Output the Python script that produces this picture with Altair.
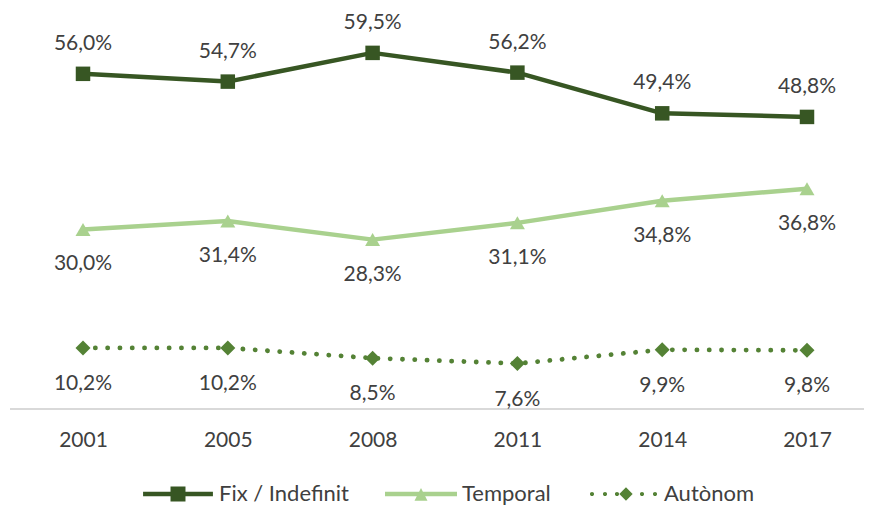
import altair as alt
import pandas as pd

years = ["2001", "2005", "2008", "2011", "2014", "2017"]
fix = [56.0, 54.7, 59.5, 56.2, 49.4, 48.8]
temporal = [30.0, 31.4, 28.3, 31.1, 34.8, 36.8]
autonom = [10.2, 10.2, 8.5, 7.6, 9.9, 9.8]
series_names = ["Fix / Indefinit", "Temporal", "Autònom"]
colors = ["#375623", "#A9D18E", "#548235"]

rows = []
for name, vals in zip(series_names, [fix, temporal, autonom]):
    for yr, v in zip(years, vals):
        rows.append({"year": yr, "value": v, "series": name,
                     "label": f"{v:.1f}".replace(".", ",") + "%"})
df = pd.DataFrame(rows)

FONT = "Lato"
TXT = "#404040"
W, H = 854, 397
YMAX = 66.33

x = alt.X("year:O", sort=years,
          scale=alt.Scale(type="point", range=[73, 797], padding=0),
          axis=alt.Axis(title=None, domain=False, ticks=False, tickSize=0,
                        labelFont=FONT, labelFontSize=21, labelColor=TXT,
                        labelAngle=0, labelPadding=31, labelBaseline="middle"))
y = alt.Y("value:Q", scale=alt.Scale(domain=[0, YMAX], nice=False, zero=True), axis=None)

base = alt.Chart(df)

def sel(name):
    return base.transform_filter(alt.datum.series == name)

axis_line = alt.Chart(pd.DataFrame({"value": [0]})).mark_rule(
    color="#d9d9d9", strokeWidth=2).encode(
    y=alt.Y("value:Q", scale=alt.Scale(domain=[0, YMAX], nice=False), axis=None),
    x=alt.value(0), x2=alt.value(W))

line_fix = sel(series_names[0]).mark_line(color=colors[0], strokeWidth=4.5, strokeJoin="round").encode(x=x, y=y)
line_tmp = sel(series_names[1]).mark_line(color=colors[1], strokeWidth=4.5, strokeJoin="round").encode(x=x, y=y)
line_aut = sel(series_names[2]).mark_line(color=colors[2], strokeWidth=4.8, strokeDash=[0.1, 12.2],
                                          strokeCap="round").encode(x=x, y=y)

pt_fix = sel(series_names[0]).mark_point(shape="square", size=210, filled=True, opacity=1,
                                         color=colors[0]).encode(x=x, y=y)
pt_tmp = sel(series_names[1]).mark_point(shape="triangle-up", size=225, filled=True, opacity=1,
                                         color=colors[1]).encode(x=x, y=y)
pt_aut = sel(series_names[2]).mark_point(shape="diamond", size=225, filled=True, opacity=1,
                                         color=colors[2]).encode(x=x, y=y)

def lbl(name, dy):
    return sel(name).mark_text(font=FONT, fontSize=21, color=TXT, dy=dy,
                               align="center", baseline="middle").encode(x=x, y=y, text="label:N")

t_fix = lbl(series_names[0], -30)
t_tmp = lbl(series_names[1], 35)
t_aut = lbl(series_names[2], 36)

# legend symbols: custom paths (unit = 36px)
def circ(cx, r):
    return f"M{cx - r},0 a{r},{r} 0 1,0 {2 * r},0 a{r},{r} 0 1,0 {-2 * r},0 Z "

p_fix = "M-0.97,-0.0625 H0.97 V0.0625 H-0.97 Z M-0.208,-0.208 H0.208 V0.208 H-0.208 Z"
p_tmp = "M-1,-0.0625 H1 V0.0625 H-1 Z M0,-0.17 L0.18,0.19 L-0.18,0.19 Z"
p_aut = "".join(circ(c, 0.058) for c in [-0.861, -0.5, -0.167, 0.528, 0.889]) + \
        "M0.083,-0.185 L0.268,0 L0.083,0.185 L-0.102,0 Z"
paths = [p_fix, p_tmp, p_aut]

leg = dict(title=None, orient="none", legendX=132, legendY=446, direction="horizontal",
           symbolSize=5184, labelFont=FONT, labelFontSize=22, labelColor=TXT,
           labelOffset=5, columnPadding=36, padding=0, symbolStrokeWidth=0,
           symbolOpacity=1)

legend_layer = base.transform_filter("false").mark_point(filled=True, size=5184, opacity=1).encode(
    x=x, y=y,
    color=alt.Color("series:N", scale=alt.Scale(domain=series_names, range=colors),
                    legend=alt.Legend(**leg)),
    shape=alt.Shape("series:N", scale=alt.Scale(domain=series_names, range=paths),
                    legend=alt.Legend(**leg)),
)

chart = alt.layer(axis_line, line_fix, line_tmp, line_aut, pt_fix, pt_tmp, pt_aut,
                  t_fix, t_tmp, t_aut, legend_layer).properties(
    width=W, height=H,
    autosize=alt.AutoSizeParams(type="none"),
    padding={"left": 2, "top": 4, "right": 0, "bottom": 96},
).configure_view(stroke=None).configure_axis(grid=False)

chart.save("out.html", embed_options={"renderer": "svg", "actions": False})
